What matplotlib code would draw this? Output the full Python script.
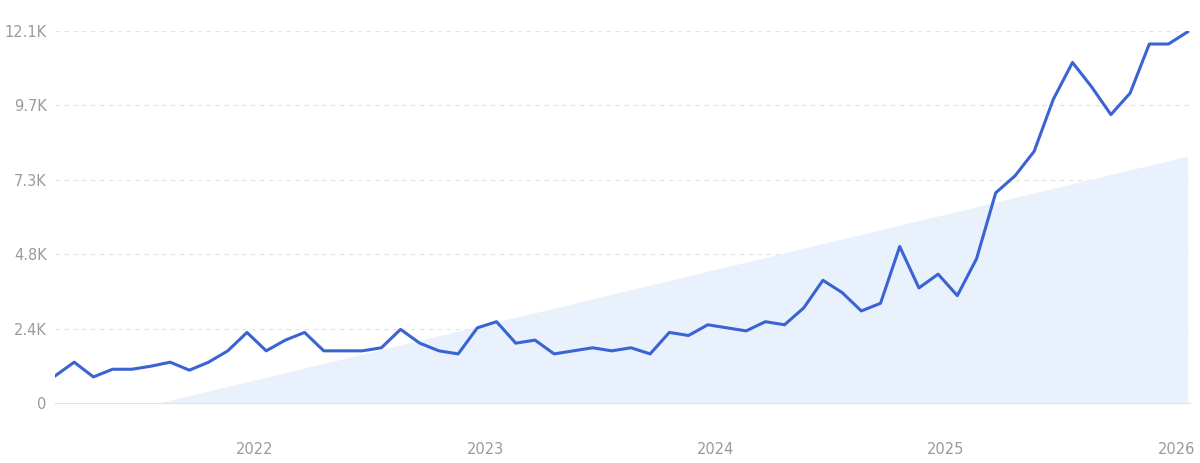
import matplotlib.pyplot as plt
import numpy as np

start_year = 2021 + 1.6 / 12
values_k = [0.88, 1.33, 0.85, 1.1, 1.1, 1.2, 1.33, 1.07, 1.33, 1.7,
            2.3, 1.7, 2.05, 2.3, 1.7, 1.7, 1.7, 1.8, 2.4, 1.95,
            1.7, 1.6, 2.45, 2.65, 1.95, 2.05, 1.6, 1.7, 1.8, 1.7,
            1.8, 1.6, 2.3, 2.2, 2.55, 2.45, 2.35, 2.65, 2.55, 3.1,
            4.0, 3.6, 3.0, 3.25, 5.1, 3.75, 4.2, 3.5, 4.7, 6.85,
            7.4, 8.2, 9.9, 11.1, 10.3, 9.4, 10.1, 11.7, 11.7, 12.1]
trend_start = (2021 + 7.0 / 12, 0.0)
trend_end_k = 8.05
yticks = [0, 2425, 4850, 7275, 9700, 12125]
ytick_labels = ['0', '2.4K', '4.8K', '7.3K', '9.7K', '12.1K']
xticks = [2022, 2023, 2024, 2025, 2026]

x = start_year + np.arange(len(values_k)) / 12
y = np.array(values_k) * 1000

fig = plt.figure(figsize=(12, 4.63), dpi=100)
ax = fig.add_axes([55 / 1200, 1 - 403 / 463, 1135 / 1200, 372 / 463])

ax.fill_between([trend_start[0], x[-1]], [trend_start[1], 0], [trend_start[1], trend_end_k * 1000],
                color='#e9f1fc', linewidth=0)
ax.plot(x, y, color='#3a63d4', linewidth=2.2, solid_joinstyle='round')

ax.set_xlim(x[0], x[-1] + 0.01)
ax.set_ylim(0, 12125)
ax.set_yticks(yticks)
ax.set_yticklabels(ytick_labels)
ax.set_xticks(xticks)
ax.set_xticklabels([str(t) for t in xticks])
ax.grid(axis='y', color='#e2e2e2', linestyle=(0, (4, 4)), linewidth=0.8)
ax.set_axisbelow(True)
for s in ['top', 'right', 'left']:
    ax.spines[s].set_visible(False)
ax.spines['bottom'].set_color('#e2e2e2')
ax.tick_params(axis='both', length=0, colors='#9a9a9a', labelsize=10.5)
ax.tick_params(axis='x', pad=28)
ax.tick_params(axis='y', pad=6)

plt.savefig('out.png', dpi=100)
